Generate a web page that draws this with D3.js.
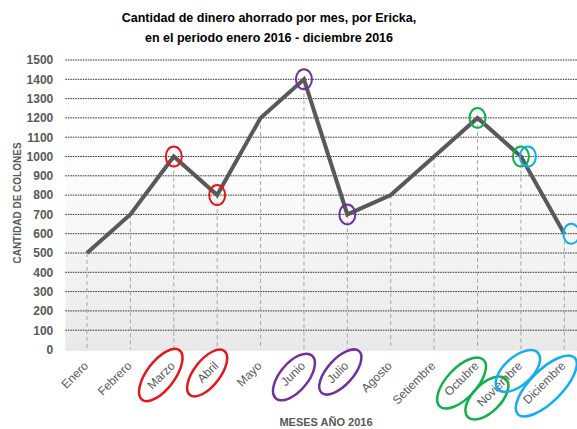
<!DOCTYPE html>
<html>
<head>
<meta charset="utf-8">
<script src="https://cdn.jsdelivr.net/npm/d3@7"></script>
<style>
  body { margin: 0; background: #fff; }
  svg { display: block; font-family: "Liberation Sans", Arial, sans-serif; }
</style>
</head>
<body>
<div id="chart"></div>
<script>
// data
const months = ['Enero', 'Febrero', 'Marzo', 'Abril', 'Mayo', 'Junio', 'Julio',
  'Agosto', 'Setiembre', 'Octubre', 'Noviembre', 'Diciembre'];
const ahorro = [500, 700, 1000, 800, 1200, 1400, 700, 800, 1000, 1200, 1000, 600];
const yTicks = d3.range(0, 1501, 100);

// hand drawn circles (month, colour, offset in px)
const pointMarks = [
  ['Marzo', '#e8141b', 0], ['Abril', '#e8141b', 0],
  ['Junio', '#7030a0', 0], ['Julio', '#7030a0', 0],
  ['Octubre', '#10b04a', 0], ['Noviembre', '#10b04a', 0],
  ['Noviembre', '#12aeef', 7], ['Diciembre', '#12aeef', 7]
];
const labelMarks = [
  ['Marzo', '#e8141b', -13, 375, 31, 14, -53],
  ['Abril', '#e8141b', -10, 373, 28, 13, -52],
  ['Junio', '#7030a0', -10, 377, 28, 14, -50],
  ['Julio', '#7030a0', -7, 372, 28, 13, -48],
  ['Octubre', '#10b04a', -16, 383, 32, 15, -47],
  ['Noviembre', '#10b04a', -34, 398, 27, 14, -45],
  ['Noviembre', '#12aeef', -3, 371, 27, 14, -42],
  ['Diciembre', '#12aeef', -18, 386, 40, 16, -45]
];

let width = 577, height = 429;
let mLeft = 65.3, mRight = 586, mTop = 60, mBottom = 349.5;

let svg = d3.select('#chart').append('svg')
  .attr('width', width)
  .attr('height', height);

let x = d3.scaleBand().domain(months).range([mLeft, mRight]).padding(0);
let y = d3.scaleLinear().domain([0, 1500]).range([mBottom, mTop]);
let cx = m => x(m) + x.bandwidth() / 2;

// plot background gradient
let grad = svg.append('defs').append('linearGradient')
  .attr('id', 'bg').attr('x1', 0).attr('y1', 0).attr('x2', 0).attr('y2', 1);
grad.append('stop').attr('offset', '0%').attr('stop-color', '#ffffff');
grad.append('stop').attr('offset', '40%').attr('stop-color', '#fcfcfc');
grad.append('stop').attr('offset', '100%').attr('stop-color', '#e9e9e9');

svg.append('rect')
  .attr('x', mLeft).attr('y', mTop)
  .attr('width', mRight - mLeft).attr('height', mBottom - mTop)
  .attr('fill', 'url(#bg)');

// title
svg.append('text')
  .attr('x', 269).attr('y', 22)
  .attr('text-anchor', 'middle')
  .attr('font-size', 12.5).attr('font-weight', 'bold').attr('fill', '#000')
  .selectAll('tspan')
  .data(['Cantidad de dinero ahorrado por mes, por Ericka,', 'en el periodo enero 2016 - diciembre 2016'])
  .enter().append('tspan')
  .attr('x', 269).attr('dy', (d, i) => i ? 20 : 0)
  .text(d => d);

// horizontal grid
svg.append('g')
  .selectAll('line')
  .data(yTicks.filter(d => d > 0))
  .enter().append('line')
  .attr('x1', mLeft).attr('x2', mRight)
  .attr('y1', d => y(d)).attr('y2', d => y(d))
  .attr('stroke', '#2a2a2a').attr('stroke-width', 1)
  .attr('stroke-dasharray', '1.5,1');

// y axis labels
let yAxis = svg.append('g')
  .attr('transform', `translate(${mLeft},0)`)
  .call(d3.axisLeft(y).tickValues(yTicks).tickFormat(d3.format('d')).tickSize(0).tickPadding(12));
yAxis.select('.domain').remove();
yAxis.selectAll('text')
  .attr('font-family', '"Liberation Sans", Arial, sans-serif')
  .attr('font-size', 12).attr('font-weight', 'bold').attr('fill', '#595959');

// drop lines
svg.append('g')
  .selectAll('line')
  .data(months)
  .enter().append('line')
  .attr('x1', cx).attr('x2', cx)
  .attr('y1', (d, i) => y(ahorro[i])).attr('y2', mBottom)
  .attr('stroke', '#a6a6a6').attr('stroke-width', 1)
  .attr('stroke-dasharray', '4,3');

// x axis
let xAxis = svg.append('g')
  .attr('transform', `translate(0,${mBottom})`)
  .call(d3.axisBottom(x).tickSize(0).tickPadding(0));
xAxis.select('.domain').attr('stroke', '#d9d9d9');
xAxis.selectAll('text')
  .attr('font-family', '"Liberation Sans", Arial, sans-serif')
  .attr('font-size', 12).attr('fill', '#595959')
  .attr('text-anchor', 'end')
  .attr('dy', 0)
  .attr('transform', 'translate(2,17) rotate(-45)');

// the line
let line = d3.line()
  .x((d, i) => cx(months[i]))
  .y(d => y(d));

svg.append('path')
  .datum(ahorro)
  .attr('d', line)
  .attr('fill', 'none')
  .attr('stroke', '#595959')
  .attr('stroke-width', 4);

// circles round points
svg.append('g')
  .selectAll('ellipse')
  .data(pointMarks)
  .enter().append('ellipse')
  .attr('cx', d => cx(d[0]) + d[2])
  .attr('cy', d => y(ahorro[months.indexOf(d[0])]))
  .attr('rx', 8).attr('ry', 10)
  .attr('fill', 'none').attr('stroke', d => d[1]).attr('stroke-width', 2);

// circles round labels
svg.append('g')
  .selectAll('ellipse')
  .data(labelMarks)
  .enter().append('ellipse')
  .attr('transform', d => `translate(${cx(d[0]) + d[2]},${d[3]}) rotate(${d[6]})`)
  .attr('rx', d => d[4]).attr('ry', d => d[5])
  .attr('fill', 'none').attr('stroke', d => d[1]).attr('stroke-width', 2.5);

// axis titles
svg.append('text')
  .attr('transform', 'translate(21,203) rotate(-90)')
  .attr('text-anchor', 'middle')
  .attr('font-size', 10).attr('font-weight', 'bold').attr('fill', '#595959')
  .text('CANTIDAD DE COLONES');

svg.append('text')
  .attr('x', 326).attr('y', 426)
  .attr('text-anchor', 'middle')
  .attr('font-size', 11).attr('font-weight', 'bold').attr('fill', '#595959')
  .text('MESES AÑO 2016');
</script>
</body>
</html>
